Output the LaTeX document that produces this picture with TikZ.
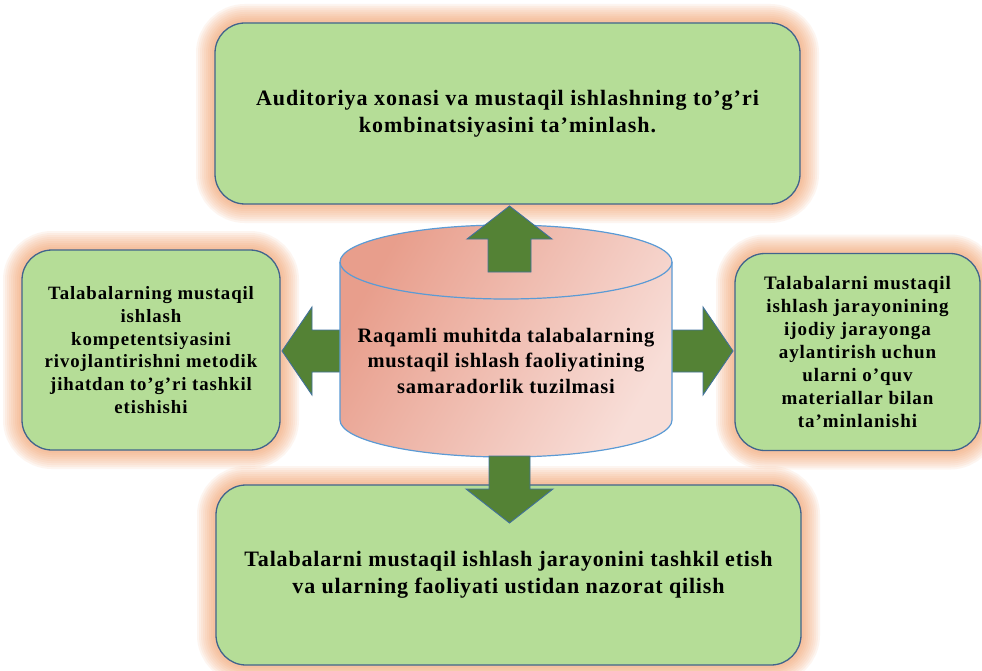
\documentclass[tikz,border=0pt]{standalone}
\usepackage{fontspec}
\setmainfont{Liberation Serif}
\definecolor{boxfill}{RGB}{181,221,151}
\definecolor{boxborder}{RGB}{65,100,140}
\definecolor{arrowfill}{RGB}{84,130,53}
\definecolor{arrowborder}{RGB}{65,113,156}
\definecolor{glowc}{RGB}{245,165,110}
\definecolor{cylborder}{RGB}{91,155,213}
\definecolor{cylA}{RGB}{232,158,140}
\definecolor{cylB}{RGB}{248,222,216}
\tikzset{
  glowbox/.style={
    preaction={draw=glowc, line width=38pt, opacity=0.10, rounded corners=30pt},
    preaction={draw=glowc, line width=34pt, opacity=0.10, rounded corners=30pt},
    preaction={draw=glowc, line width=30pt, opacity=0.10, rounded corners=30pt},
    preaction={draw=glowc, line width=26pt, opacity=0.10, rounded corners=30pt},
    preaction={draw=glowc, line width=22pt, opacity=0.10, rounded corners=30pt},
    preaction={draw=glowc, line width=18pt, opacity=0.10, rounded corners=30pt},
    preaction={draw=glowc, line width=14pt, opacity=0.12, rounded corners=30pt},
    preaction={draw=glowc, line width=10pt, opacity=0.12, rounded corners=30pt},
    preaction={draw=glowc, line width=6pt, opacity=0.12, rounded corners=30pt},
  },
  greenbox/.style={glowbox, draw=boxborder, line width=1.3pt, fill=boxfill,
    rounded corners=30pt, inner sep=0pt, align=center},
  blockarrow/.style={fill=arrowfill, draw=arrowborder, line width=0.9pt, line join=miter},
}
\newcommand\txt[3]{\bfseries\fontsize{#1}{#2}\selectfont\addfontfeature{LetterSpace=#3}}
\begin{document}
\begin{tikzpicture}[x=1pt,y=-1pt]
\useasboundingbox (0,0) rectangle (982,671);
\fill[white] (0,0) rectangle (982,671);

% boxes
\node[greenbox, minimum width=585pt, minimum height=181pt,
  font=\txt{22}{27}{4.5}] (top) at (507.5,113.5)
  {Auditoriya xonasi va mustaqil ishlashning to’g’ri\\kombinatsiyasini ta’minlash.};
\node[greenbox, minimum width=258pt, minimum height=200pt,
  font=\txt{18.8}{22.7}{4.8}] (left) at (151,350)
  {Talabalarning mustaqil\\ishlash\\kompetentsiyasini\\rivojlantirishni metodik\\jihatdan to’g’ri tashkil\\etishishi};
\node[greenbox, minimum width=245pt, minimum height=197pt,
  font=\txt{19}{23}{5}] (right) at (857.5,352)
  {Talabalarni mustaqil\\ishlash jarayonining\\ijodiy jarayonga\\aylantirish uchun\\ularni o’quv\\materiallar bilan\\ta’minlanishi};
\node[greenbox, minimum width=585pt, minimum height=180pt,
  font=\txt{22}{27}{3.8}] (bottom) at (508.5,575)
  {Talabalarni mustaqil ishlash jarayonini tashkil etish\\va ularning faoliyati ustidan nazorat qilish};

% left and right arrows (behind cylinder)
\draw[blockarrow] (345,330) -- (312,330) -- (312,307) -- (282,351) -- (312,395) -- (312,372) -- (345,372) -- cycle;
\draw[blockarrow] (667,330) -- (703,330) -- (703,307) -- (733,351) -- (703,395) -- (703,372) -- (667,372) -- cycle;

% cylinder
\path[left color=cylA, right color=cylB, shading angle=60]
  (340,262) -- (340,420) arc[start angle=180, end angle=0, x radius=166, y radius=37]
  -- (672,262) arc[start angle=0, end angle=-180, x radius=166, y radius=37] -- cycle;
\draw[cylborder, line width=1.2pt]
  (340,262) -- (340,420) arc[start angle=180, end angle=0, x radius=166, y radius=37]
  -- (672,262) arc[start angle=0, end angle=-180, x radius=166, y radius=37] -- cycle;
\draw[cylborder, line width=1.2pt] (340,262) arc[start angle=180, end angle=0, x radius=166, y radius=37];
\node[align=center, font=\txt{20.5}{25.5}{3.5}] (core) at (506,361)
  {Raqamli muhitda talabalarning\\mustaqil ishlash faoliyatining\\samaradorlik tuzilmasi};

% up and down arrows
\draw[blockarrow] (488,272) -- (488,239) -- (467,239) -- (509.5,206) -- (552,239) -- (531,239) -- (531,272) -- cycle;
\draw[blockarrow] (489,456) -- (489,489) -- (466,489) -- (509.5,523) -- (553,489) -- (530,489) -- (530,456) -- cycle;
\end{tikzpicture}
\end{document}
